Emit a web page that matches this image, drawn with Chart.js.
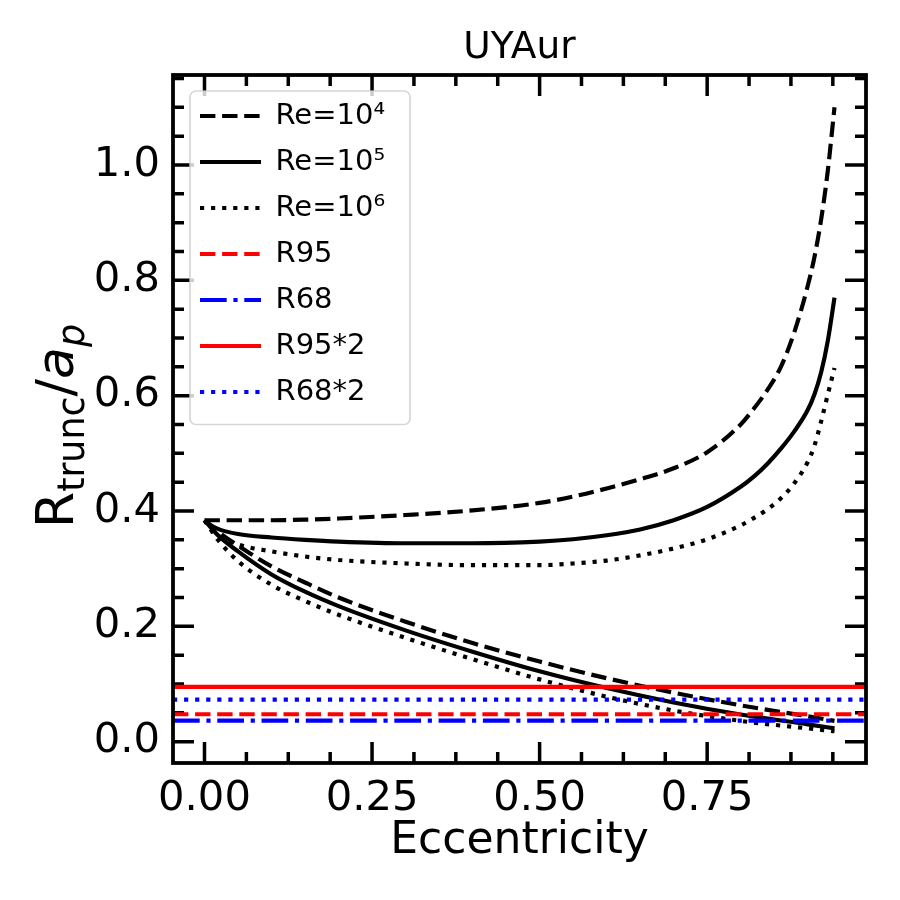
<!DOCTYPE html>
<html>
<head>
<meta charset="utf-8">
<script src="https://cdn.jsdelivr.net/npm/chart.js@4.4.1/dist/chart.umd.min.js"></script>
<style>
  html, body { margin: 0; padding: 0; background: #fff; }
</style>
</head>
<body>
<canvas id="myChart" width="900" height="900"></canvas>
<script>
// eccentricity grids
const eccUpper = [0, 0.01, 0.02, 0.05, 0.1, 0.15, 0.2, 0.3, 0.4, 0.5, 0.55, 0.6, 0.65, 0.7, 0.75, 0.8, 0.82, 0.84, 0.86, 0.88, 0.9, 0.91, 0.92, 0.93, 0.94];
const eccLower = [0, 0.02, 0.05, 0.1, 0.15, 0.2, 0.3, 0.4, 0.5, 0.6, 0.7, 0.8, 0.9, 0.94];

// truncation radius, upper branch
const re4Upper = [0.384, 0.384, 0.384, 0.384, 0.384, 0.385, 0.387, 0.393, 0.401, 0.414, 0.425, 0.439, 0.455, 0.474, 0.502, 0.550, 0.578, 0.610, 0.650, 0.710, 0.790, 0.840, 0.905, 0.990, 1.100];
const re5Upper = [0.384, 0.375, 0.369, 0.360, 0.354, 0.350, 0.347, 0.344, 0.344, 0.347, 0.351, 0.358, 0.368, 0.384, 0.407, 0.442, 0.460, 0.482, 0.508, 0.538, 0.575, 0.602, 0.640, 0.695, 0.770];
const re6Upper = [0.384, 0.368, 0.358, 0.342, 0.330, 0.321, 0.315, 0.309, 0.306, 0.306, 0.309, 0.314, 0.323, 0.335, 0.351, 0.375, 0.388, 0.403, 0.422, 0.448, 0.485, 0.513, 0.555, 0.602, 0.648];

// lower branch
const re4Lower = [0.384, 0.364, 0.340, 0.304, 0.276, 0.250, 0.208, 0.171, 0.139, 0.110, 0.085, 0.063, 0.044, 0.036];
const re5Lower = [0.384, 0.358, 0.330, 0.290, 0.260, 0.235, 0.193, 0.156, 0.122, 0.093, 0.068, 0.047, 0.030, 0.023];
const re6Lower = [0.384, 0.350, 0.313, 0.272, 0.244, 0.220, 0.180, 0.143, 0.108, 0.078, 0.054, 0.036, 0.023, 0.018];

// horizontal reference radii
const hLabels = ["R95", "R68", "R95*2", "R68*2"];
const hValues = [0.0475, 0.0365, 0.095, 0.073];

const reLabels = ["Re=10\u2074", "Re=10\u2075", "Re=10\u2076"];

// axes
const xMin = -0.047, xMax = 0.987;
const yMin = -0.037, yMax = 1.156;
const xTicks = [0, 0.25, 0.5, 0.75];
const yTicks = [0, 0.2, 0.4, 0.6, 0.8, 1.0];
const xMinorStep = 0.0625;
const yMinorStep = 0.05;

const FONT = "DejaVu Sans";
const LW = 4.17;
const DASHED = [15.4, 6.7];
const DOTTED = [4.17, 6.9];
const DASHDOT = [26.7, 6.7, 4.17, 6.7];

Chart.defaults.font.family = FONT;
Chart.defaults.color = "#000";

function pts(xs, ys) {
  return xs.map((x, i) => ({ x: x, y: ys[i] }));
}

function curve(label, xs, ys, dash, color) {
  return {
    label: label,
    data: pts(xs, ys),
    borderColor: color || "#000",
    backgroundColor: color || "#000",
    borderWidth: LW,
    borderDash: dash,
    pointRadius: 0,
    cubicInterpolationMode: "monotone",
    fill: false
  };
}

function hline(label, v, dash, color) {
  return curve(label, [xMin, xMax], [v, v], dash, color);
}

const datasets = [
  curve(reLabels[0], eccUpper, re4Upper, DASHED),
  curve(reLabels[1], eccUpper, re5Upper, []),
  curve(reLabels[2], eccUpper, re6Upper, DOTTED),
  hline(hLabels[0], hValues[0], DASHED, "#ff0000"),
  hline(hLabels[1], hValues[1], DASHDOT, "#0000ff"),
  hline(hLabels[2], hValues[2], [], "#ff0000"),
  hline(hLabels[3], hValues[3], DOTTED, "#0000ff"),
  curve("", eccLower, re4Lower, DASHED),
  curve("", eccLower, re5Lower, []),
  curve("", eccLower, re6Lower, DOTTED)
];

// legend spacing
const LEG_FS = 29;
const LEG_PAD = 17;
const LEG_SHIFT_X = 10, LEG_SHIFT_Y = 9.5;

function minorValues(lo, hi, step) {
  const out = [];
  for (let k = Math.ceil(lo / step); k * step <= hi + 1e-9; k++) out.push(k * step);
  return out;
}

const boxPlugin = {
  id: "boxPlugin",
  afterLayout(chart) {
    // legend sits inside the axes, off the spines
    chart.legend.left = chart.chartArea.left + LEG_SHIFT_X;
    chart.legend.top = chart.chartArea.top + LEG_SHIFT_Y;
  },
  beforeDraw(chart) {
    const ctx = chart.ctx;
    const a = chart.chartArea;
    const xs = chart.scales.x, ys = chart.scales.y;
    ctx.save();
    ctx.strokeStyle = "#000";
    ctx.lineWidth = 3.5;
    ctx.lineCap = "butt";
    ctx.beginPath();
    // inward ticks on all four sides
    minorValues(xMin, xMax, xMinorStep).forEach(v => {
      const major = xTicks.some(t => Math.abs(t - v) < 1e-9);
      const len = major ? 21 : 11;
      const px = xs.getPixelForValue(v);
      ctx.moveTo(px, a.bottom); ctx.lineTo(px, a.bottom - len);
      ctx.moveTo(px, a.top); ctx.lineTo(px, a.top + len);
    });
    minorValues(yMin, yMax, yMinorStep).forEach(v => {
      const major = yTicks.some(t => Math.abs(t - v) < 1e-9);
      const len = major ? 21 : 11;
      const py = ys.getPixelForValue(v);
      ctx.moveTo(a.left, py); ctx.lineTo(a.left + len, py);
      ctx.moveTo(a.right, py); ctx.lineTo(a.right - len, py);
    });
    ctx.stroke();

    // legend frame
    const lg = chart.legend;
    const x0 = lg.left + LEG_PAD;
    const y0 = lg.top + LEG_PAD;
    const n = lg.legendItems.length;
    ctx.font = LEG_FS + "px " + FONT;
    let maxW = 0;
    lg.legendItems.forEach(it => { maxW = Math.max(maxW, ctx.measureText(it.text).width); });
    const fl = x0 - 10;
    const ft = y0 - 10.5;
    const fr = x0 + 61 + LEG_FS / 2 + maxW + 25;
    const fb = y0 + n * (LEG_FS + LEG_PAD) - LEG_PAD + 18;
    ctx.beginPath();
    ctx.roundRect(fl, ft, fr - fl, fb - ft, 6);
    ctx.fillStyle = "rgba(255,255,255,0.8)";
    ctx.fill();
    ctx.lineWidth = 1.7;
    ctx.strokeStyle = "rgba(204,204,204,0.8)";
    ctx.stroke();
    ctx.restore();
  },
  afterDatasetsDraw(chart) {
    const ctx = chart.ctx;
    const a = chart.chartArea;
    ctx.save();
    ctx.strokeStyle = "#000";
    ctx.lineWidth = 3.8;
    ctx.strokeRect(a.left, a.top, a.right - a.left, a.bottom - a.top);
    ctx.restore();
  },
  afterDraw(chart) {
    // y axis title: R_trunc / a_p
    const ctx = chart.ctx;
    const a = chart.chartArea;
    const fs = 52, sub = fs * 0.7, drop = fs * 0.22;
    const parts = [
      { t: "R", f: fs + "px " + FONT, dy: 0 },
      { t: "trunc", f: sub + "px " + FONT, dy: drop },
      { t: "/", f: fs + "px " + FONT, dy: 0 },
      { t: "a", f: "oblique " + fs + "px " + FONT, dy: 0 },
      { t: "p", f: "oblique " + sub + "px " + FONT, dy: drop }
    ];
    ctx.save();
    let total = 0;
    parts.forEach(p => { ctx.font = p.f; p.w = ctx.measureText(p.t).width; total += p.w; });
    ctx.translate(73, (a.top + a.bottom) / 2 + 7);
    ctx.rotate(-Math.PI / 2);
    ctx.fillStyle = "#000";
    ctx.textBaseline = "alphabetic";
    ctx.textAlign = "left";
    let x = -total / 2;
    parts.forEach(p => { ctx.font = p.f; ctx.fillText(p.t, x, p.dy); x += p.w; });
    ctx.restore();
  }
};

const ctx = document.getElementById("myChart").getContext("2d");
const myChart = new Chart(ctx, {
  type: "line",
  data: { datasets: datasets },
  plugins: [boxPlugin],
  options: {
    responsive: false,
    animation: false,
    devicePixelRatio: 1,
    events: [],
    layout: { padding: { left: 0, right: 34, top: 0, bottom: 0 } },
    scales: {
      x: {
        type: "linear",
        min: xMin,
        max: xMax,
        grid: { display: false, drawTicks: false },
        border: { display: false },
        ticks: {
          font: { size: 41.7 },
          color: "#000",
          padding: 11,
          maxRotation: 0,
          autoSkip: false,
          callback: v => v.toFixed(2)
        },
        afterBuildTicks: s => { s.ticks = xTicks.map(v => ({ value: v })); },
        afterFit: s => { s.height = 137; },
        title: {
          display: true,
          text: "Eccentricity",
          color: "#000",
          font: { size: 44, lineHeight: 1.2 },
          padding: { top: 0, bottom: 32 }
        }
      },
      y: {
        type: "linear",
        min: yMin,
        max: yMax,
        grid: { display: false, drawTicks: false },
        border: { display: false },
        ticks: {
          font: { size: 41.7 },
          color: "#000",
          padding: 13,
          autoSkip: false,
          callback: v => v.toFixed(1)
        },
        afterBuildTicks: s => { s.ticks = yTicks.map(v => ({ value: v })); },
        afterFit: s => { s.width = 173; }
      }
    },
    plugins: {
      tooltip: { enabled: false },
      title: {
        display: true,
        text: "UYAur",
        color: "#000",
        fullSize: false,
        font: { size: 37.5, weight: "normal", lineHeight: 1.2 },
        padding: { top: 26, bottom: 4 }
      },
      legend: {
        position: "chartArea",
        align: "start",
        labels: {
          usePointStyle: true,
          pointStyle: "line",
          pointStyleWidth: 61,
          padding: LEG_PAD,
          color: "#000",
          font: { size: LEG_FS },
          generateLabels: function (chart) {
            return chart.data.datasets.map((d, i) => ({
              text: d.label,
              datasetIndex: i,
              strokeStyle: d.borderColor,
              fillStyle: d.borderColor,
              lineWidth: d.borderWidth,
              lineDash: d.borderDash,
              lineCap: "butt",
              pointStyle: "line",
              fontColor: "#000",
              hidden: false
            }));
          },
          filter: item => item.text !== ""
        }
      }
    }
  }
});
</script>
</body>
</html>
